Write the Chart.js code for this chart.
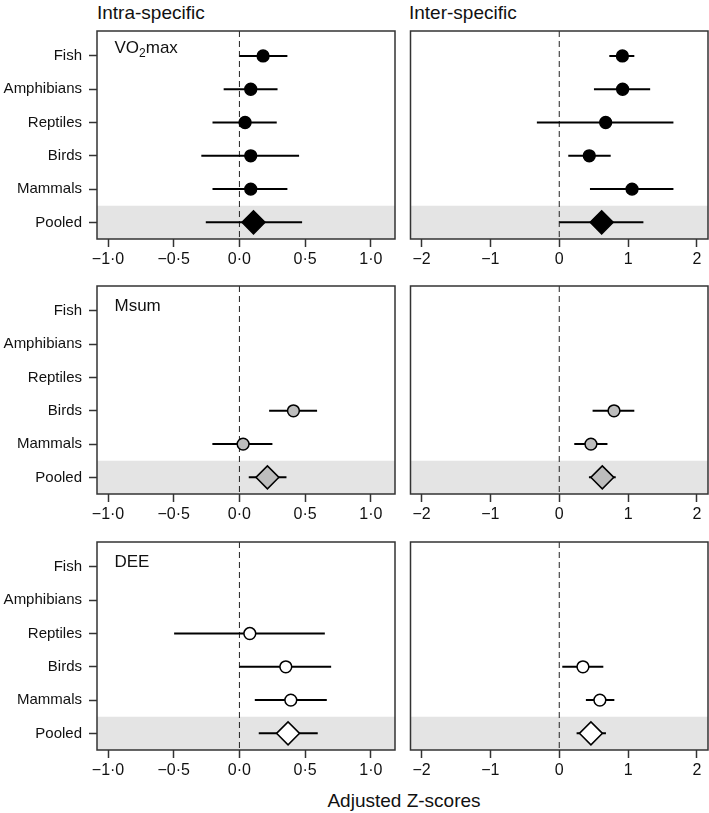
<!DOCTYPE html>
<html>
<head>
<meta charset="utf-8">
<script src="https://cdn.jsdelivr.net/npm/chart.js@4.4.0/dist/chart.umd.min.js"></script>
<style>
  body { margin: 0; background: #fff; width: 709px; height: 813px; position: relative; overflow: hidden;
         font-family: "Liberation Sans", Arial, sans-serif; }
  canvas { position: absolute; }
  .lbl { position: absolute; font-size: 19px; line-height: 19px; color: #111; white-space: nowrap; }
</style>
</head>
<body>
<div class="lbl" style="left:97px; top:3px;">Intra-specific</div>
<div class="lbl" style="left:409px; top:3px;">Inter-specific</div>
<div class="lbl" style="left:404px; top:791px; transform:translateX(-50%);">Adjusted Z-scores</div>

<script>
// rows, top to bottom
const species = ["Fish", "Amphibians", "Reptiles", "Birds", "Mammals", "Pooled"];
const rowPos = [6, 5, 4, 3, 2, 1];

const intraTicks = [-1, -0.5, 0, 0.5, 1];
const intraTickLabels = ["\u22121\u00b70", "\u22120\u00b75", "0\u00b70", "0\u00b75", "1\u00b70"];
const interTicks = [-2, -1, 0, 1, 2];
const interTickLabels = ["\u22122", "\u22121", "0", "1", "2"];

// VO2max
const vo2IntraEst = [0.18, 0.086, 0.043, 0.086, 0.086, 0.107];
const vo2IntraLo  = [0.0, -0.12, -0.205, -0.29, -0.205, -0.256];
const vo2IntraHi  = [0.365, 0.29, 0.284, 0.454, 0.365, 0.477];
const vo2InterEst = [0.917, 0.92, 0.674, 0.436, 1.057, 0.616];
const vo2InterLo  = [0.727, 0.504, -0.325, 0.131, 0.446, 0.0];
const vo2InterHi  = [1.09, 1.32, 1.658, 0.747, 1.658, 1.222];

// Msum
const msumIntraEst = [null, null, null, 0.411, 0.028, 0.213];
const msumIntraLo  = [null, null, null, 0.226, -0.206, 0.071];
const msumIntraHi  = [null, null, null, 0.591, 0.251, 0.358];
const msumInterEst = [null, null, null, 0.795, 0.46, 0.625];
const msumInterLo  = [null, null, null, 0.484, 0.218, 0.431];
const msumInterHi  = [null, null, null, 1.09, 0.70, 0.82];

// DEE
const deeIntraEst = [null, null, 0.079, 0.353, 0.391, 0.37];
const deeIntraLo  = [null, null, -0.497, 0.0, 0.117, 0.147];
const deeIntraHi  = [null, null, 0.65, 0.698, 0.665, 0.596];
const deeInterEst = [null, null, null, 0.344, 0.59, 0.46];
const deeInterLo  = [null, null, null, 0.044, 0.387, 0.252];
const deeInterHi  = [null, null, null, 0.64, 0.80, 0.678];

const FONT = "'Liberation Sans', Arial, sans-serif";
const boxTops = [31, 286, 542];
const BOX_H = 208;
const PAD_TOP = 20;
const XAXIS_H = 40;

// draws pooled band, zero line, frame and panel label
const panelDecor = {
  id: "panelDecor",
  beforeDatasetsDraw(chart, args, opts) {
    const { ctx, chartArea: a, scales: { x, y } } = chart;
    ctx.save();
    const yTop = y.getPixelForValue(1.5);
    const yBot = y.getPixelForValue(0.5);
    ctx.fillStyle = "#e4e4e4";
    ctx.fillRect(a.left, yTop, a.right - a.left, yBot - yTop);

    const x0 = x.getPixelForValue(0);
    ctx.strokeStyle = "#222";
    ctx.lineWidth = 1;
    ctx.setLineDash([6, 4]);
    ctx.beginPath();
    ctx.moveTo(x0, a.top);
    ctx.lineTo(x0, a.bottom);
    ctx.stroke();
    ctx.restore();
  },
  afterDatasetsDraw(chart, args, opts) {
    const { ctx, chartArea: a } = chart;
    ctx.save();
    ctx.strokeStyle = "#333";
    ctx.lineWidth = 1.5;
    ctx.strokeRect(a.left, a.top, a.right - a.left, a.bottom - a.top);

    if (opts.label) {
      let px = a.left + 17.5;
      const base = a.top + opts.labelY;
      ctx.fillStyle = "#111";
      ctx.textBaseline = "alphabetic";
      opts.label.forEach((part) => {
        ctx.font = (part.sub ? "12px " : "17px ") + FONT;
        ctx.fillText(part.t, px, base + (part.sub ? 3.5 : 0));
        px += ctx.measureText(part.t).width;
      });
    }
    ctx.restore();
  },
};

function makePanel(opts) {
  const cv = document.createElement("canvas");
  cv.width = opts.w;
  cv.height = PAD_TOP + BOX_H + XAXIS_H;
  cv.style.left = opts.left + "px";
  cv.style.top = opts.boxTop - PAD_TOP + "px";
  cv.style.width = cv.width + "px";
  cv.style.height = cv.height + "px";
  document.body.appendChild(cv);

  const datasets = [];
  const circles = [];
  const diamond = [];
  species.forEach((s, i) => {
    if (opts.est[i] == null) return;
    const pt = { x: opts.est[i], y: rowPos[i] };
    if (s === "Pooled") diamond.push(pt);
    else circles.push(pt);
    // confidence interval
    datasets.push({
      data: [{ x: opts.lo[i], y: rowPos[i] }, { x: opts.hi[i], y: rowPos[i] }],
      showLine: true,
      borderColor: "#000",
      borderWidth: 2,
      pointRadius: 0,
      order: 2,
    });
  });
  datasets.push({
    data: circles,
    pointStyle: "circle",
    pointRadius: 5.9,
    backgroundColor: opts.fill,
    borderColor: "#000",
    borderWidth: 1.5,
    order: 0,
  });
  datasets.push({
    data: diamond,
    pointStyle: "rectRot",
    pointRadius: 11.5,
    backgroundColor: opts.fill,
    borderColor: "#000",
    borderWidth: 1.5,
    order: 0,
  });

  new Chart(cv, {
    type: "scatter",
    data: { datasets },
    options: {
      responsive: false,
      animation: false,
      events: [],
      layout: { padding: { top: PAD_TOP, bottom: 0, left: opts.padLeft, right: opts.padRight } },
      plugins: {
        legend: { display: false },
        tooltip: { enabled: false },
        panelDecor: { label: opts.label, labelY: opts.labelY },
      },
      scales: {
        x: {
          type: "linear",
          min: opts.xmin,
          max: opts.xmax,
          afterBuildTicks: (sc) => { sc.ticks = opts.ticks.map((v) => ({ value: v })); },
          afterFit: (sc) => {
            sc.height = XAXIS_H;
            sc.paddingLeft = 0;
            sc.paddingRight = 0;
          },
          grid: { drawOnChartArea: false, drawTicks: true, tickLength: 8, tickColor: "#333", tickWidth: 1.5 },
          border: { display: false },
          ticks: {
            autoSkip: false,
            maxRotation: 0,
            padding: 3,
            color: "#111",
            font: { family: FONT, size: 16 },
            callback: (v, idx) => opts.tickLabels[idx],
          },
        },
        y: {
          type: "linear",
          display: opts.showY,
          min: 0.5,
          max: 6.75,
          afterBuildTicks: (sc) => { sc.ticks = rowPos.map((v) => ({ value: v })); },
          afterFit: (sc) => {
            if (opts.showY) sc.width = 97;
            sc.paddingTop = 0;
            sc.paddingBottom = 0;
          },
          grid: { drawOnChartArea: false, drawTicks: true, tickLength: 8, tickColor: "#333", tickWidth: 1.5 },
          border: { display: false },
          ticks: {
            autoSkip: false,
            padding: 7,
            color: "#111",
            font: { family: FONT, size: 15 },
            callback: (v) => species[6 - v],
          },
        },
      },
    },
    plugins: [panelDecor],
  });
}

const rowsCfg = [
  { intra: [vo2IntraEst, vo2IntraLo, vo2IntraHi], inter: [vo2InterEst, vo2InterLo, vo2InterHi],
    fill: "#000", label: [{ t: "VO" }, { t: "2", sub: true }, { t: "max" }], labelY: 22 },
  { intra: [msumIntraEst, msumIntraLo, msumIntraHi], inter: [msumInterEst, msumInterLo, msumInterHi],
    fill: "#bdbdbd", label: [{ t: "Msum" }], labelY: 25 },
  { intra: [deeIntraEst, deeIntraLo, deeIntraHi], inter: [deeInterEst, deeInterLo, deeInterHi],
    fill: "#fff", label: [{ t: "DEE" }], labelY: 25 },
];

// point overflow forces >= 13px padding on every side, so canvases are a bit wider than the boxes
rowsCfg.forEach((r, k) => {
  makePanel({
    left: 0, w: 408, boxTop: boxTops[k], padLeft: 0, padRight: 13, showY: true,
    est: r.intra[0], lo: r.intra[1], hi: r.intra[2], fill: r.fill,
    xmin: -1.084, xmax: 1.184, ticks: intraTicks, tickLabels: intraTickLabels,
    label: r.label, labelY: r.labelY,
  });
  makePanel({
    left: 397, w: 325, boxTop: boxTops[k], padLeft: 13.5, padRight: 14, showY: false,
    est: r.inter[0], lo: r.inter[1], hi: r.inter[2], fill: r.fill,
    xmin: -2.16, xmax: 2.16, ticks: interTicks, tickLabels: interTickLabels,
    label: null,
  });
});
</script>
</body>
</html>
